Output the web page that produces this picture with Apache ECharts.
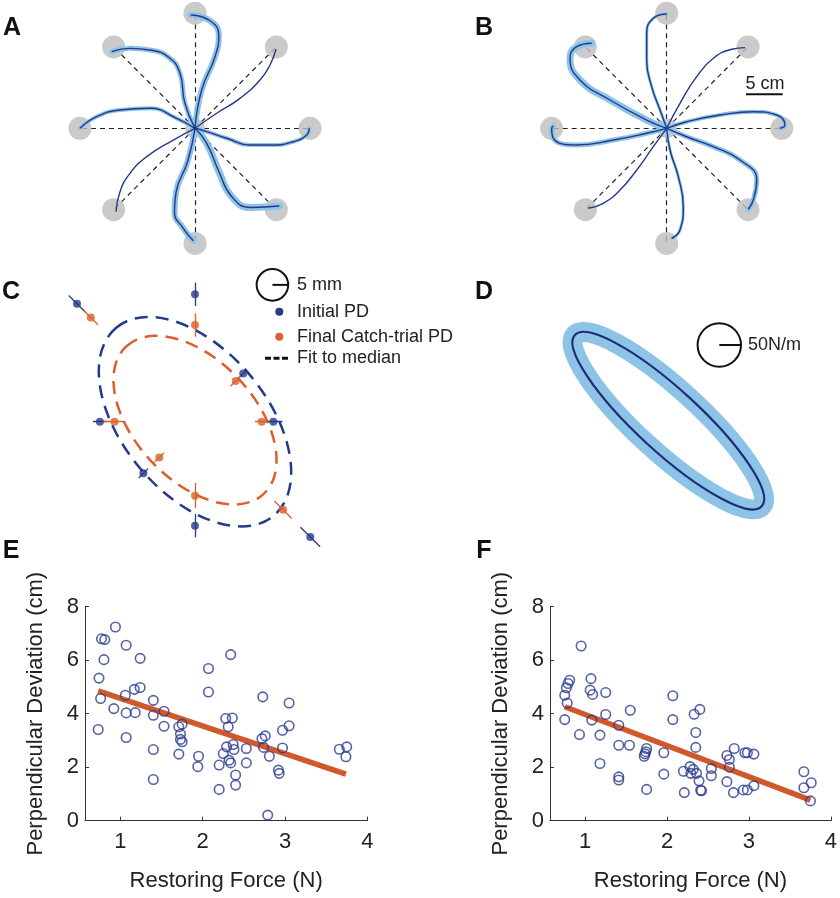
<!DOCTYPE html>
<html><head><meta charset="utf-8">
<script src="https://cdn.jsdelivr.net/npm/echarts@6/dist/echarts.min.js"></script>
<style>html,body{margin:0;padding:0;background:#fff}#c{width:840px;height:898px}</style>
</head><body><div id="c"></div>
<script>
// ================= DATA =================
// Panels A/B: targets (cm)
const targetAngles = [0, 45, 90, 135, 180, 225, 270, 315];
const targetDist = 15.7;
// Panel A: mean trajectories (cm), centre -> target, order: R, UR, U, UL, L, LL, D, LR
const trajA_R  = [[0,0],[1.60,-0.46],[4.32,-1.36],[7.50,-2.28],[10.68,-2.28],[13.41,-1.83],[15.24,-0.91],[15.59,0]];
const trajA_UR = [[0,0],[2.96,2.05],[6.14,4.09],[8.87,6.59],[10.23,8.64],[11.05,10.78]];
const trajA_U  = [[0,0],[0.91,5.22],[2.73,9.77],[3.25,12.7],[2.0,14.7],[-0.59,15.46]];
const trajA_UL = [[0,0],[-1.40,3.5],[-2.05,7.50],[-3.6,9.7],[-6.14,10.68],[-8.87,10.91],[-11.36,10.45]];
const trajA_L  = [[0,0],[-2.50,1.36],[-6.14,2.73],[-10.23,2.50],[-13.41,1.58],[-15.69,0]];
const trajA_LL = [[0,0],[-2.96,-1.60],[-6.59,-3.87],[-8.87,-6.14],[-10.23,-8.65],[-10.78,-11.38]];
const trajA_D  = [[0,0],[-1.0,-4.5],[-2.6,-8.8],[-2.8,-11.4],[-1.60,-13.64],[-0.23,-15.33]];
const trajA_LR = [[0,0],[1.60,-2.05],[3.3,-6.0],[5.0,-9.3],[7.6,-10.8],[11.50,-10.60]];
// Panel B: mean trajectories (cm)
const trajB_R  = [[0,0],[2.73,0.90],[7.27,1.81],[11.81,2.26],[15.0,1.81],[16.14,0.45],[15.46,0]];
const trajB_UR = [[0,0],[1.81,3.41],[4.09,7.04],[6.36,9.55],[8.87,10.78],[10.68,11.0]];
const trajB_U  = [[0,0],[-0.91,2.50],[-2.05,5.68],[-2.73,9.32],[-2.73,12.96],[-1.83,15.0],[0,15.59]];
const trajB_UL = [[0,0],[-2.73,1.13],[-7.74,3.86],[-11.83,6.59],[-13.19,9.55],[-12.28,11.13],[-10.23,11.60]];
const trajB_L  = [[0,0],[-2.73,-0.68],[-7.28,-1.60],[-12.28,-2.28],[-15.47,-1.36],[-15.69,0],[-15.47,0.31]];
const trajB_LL = [[0,0],[-1.83,-2.51],[-4.09,-5.69],[-6.37,-8.42],[-8.65,-10.23],[-10.70,-10.91]];
const trajB_D  = [[0,0],[0.45,-2.96],[1.58,-6.60],[2.26,-10.70],[1.81,-13.87],[0.68,-15.0]];
const trajB_LR = [[0,0],[2.73,-1.15],[6.36,-2.51],[10.0,-4.32],[12.28,-7.05],[11.81,-9.78],[11.13,-11.05]];
const scaleBarCm = 5;

// Panel C: preferred directions (mm), order: R, UR, U, UL, L, LL, D, LR
const pdAngles = [0, 45, 90, 135, 180, 225, 270, 315];
const initialPD    = [24.8, 21.6, 40.3, 52.8, 30.1, 23.1, 32.9, 51.6];
const initialPDErr = [2.9, 1.6, 3.7, 3.7, 2.2, 2.1, 3.7, 4.4];
const finalPD      = [21.1, 18.2, 30.6, 46.6, 25.5, 16.0, 23.4, 39.4];
const finalPDErr   = [2.1, 2.3, 3.7, 3.2, 3.4, 2.1, 4.0, 3.9];
// fitted ellipses [cx, cy, semi-major, semi-minor, angle deg]
const fitInitial = [0, 0, 38.8, 22.8, -50];
const fitFinal   = [0, 0.5, 31.9, 19.0, -47];
const scaleC_mm = 5;

// Panel D: stiffness ellipse (N/m)
const stiffEllipse = [0, 0, 292, 72, -42.5];
const scaleD_Nm = 50;

// Panels E/F
const xTicks = [1, 2, 3, 4];
const yTicks = [0, 2, 4, 6, 8];
const scatterE = [[0.94,7.24],[0.77,6.80],[0.81,6.77],[1.07,6.56],[0.80,6.02],[1.24,6.07],[0.74,5.33],[1.17,4.91],[1.24,4.98],[0.76,4.57],[1.06,4.69],[1.40,4.50],[0.92,4.19],[1.07,4.03],[1.18,4.04],[1.40,3.94],[1.53,4.09],[0.73,3.41],[1.07,3.11],[1.53,3.53],[1.71,3.51],[1.75,3.61],[1.73,3.24],[1.73,3.04],[1.75,2.95],[1.40,2.66],[1.71,2.49],[1.95,2.41],[1.94,2.02],[1.40,1.54],
  [2.07,5.69],[2.07,4.81],[2.20,2.08],[2.20,1.17],[2.28,3.82],[2.36,3.84],[2.31,3.51],[2.37,2.85],[2.29,2.76],[2.38,2.66],[2.25,2.51],[2.32,2.26],[2.34,2.16],[2.40,1.71],[2.40,1.33],[2.34,6.21],[2.53,2.70],[2.53,2.16],[2.73,4.63],[2.72,3.07],[2.76,3.17],[2.74,2.74],[2.81,2.41],[2.92,1.89],[2.93,1.77],[2.79,0.21],[2.97,3.38],[3.05,3.55],[2.97,2.72],[3.05,4.40],[3.66,2.67],[3.75,2.76],[3.74,2.39]];
const fitLineE = [[0.73,4.85],[3.74,1.74]];
const scatterF = [[0.95,6.53],[0.75,4.69],[0.77,4.97],[0.79,5.13],[0.81,5.25],[0.78,4.40],[0.75,3.78],[1.07,5.31],[1.06,4.88],[1.09,4.72],[1.25,4.79],[0.93,3.22],[1.08,3.76],[1.25,3.97],[1.18,3.20],[1.18,2.14],[1.41,3.57],[1.55,4.13],[1.41,2.82],[1.54,2.82],[1.75,2.70],[1.74,2.58],[1.72,2.41],[1.73,2.50],[1.41,1.64],[1.41,1.52],[1.75,1.17],[1.96,2.54],[1.96,1.74],[2.07,4.67],[2.07,3.78],[2.21,1.05],[2.20,1.85],
  [2.33,3.98],[2.40,4.16],[2.35,3.30],[2.35,2.74],[2.28,2.02],[2.32,1.92],[2.29,1.77],[2.36,1.77],[2.39,1.49],[2.41,1.14],[2.42,1.12],[2.54,1.95],[2.54,1.68],[2.73,2.44],[2.76,2.29],[2.82,2.70],[2.76,2.00],[2.73,1.46],[2.81,1.05],[2.95,2.54],[2.98,2.54],[3.06,2.49],[2.93,1.15],[2.98,1.15],[3.06,1.31],[3.67,1.83],[3.76,1.42],[3.67,1.23],[3.75,0.74]];
const fitLineF = [[0.75,4.26],[3.75,0.77]];

// ================= STYLE / LAYOUT =================
const FONT = "'Liberation Sans', Arial, Helvetica, sans-serif";
const NAVY = '#22398a', BAND = '#8cc3e6', GRAY = '#bdbdbd';
const CBLUE = '#253a8c', CORANGE = '#dc5f2c';
const trajA = [trajA_R, trajA_UR, trajA_U, trajA_UL, trajA_L, trajA_LL, trajA_D, trajA_LR];
const trajB = [trajB_R, trajB_UR, trajB_U, trajB_UL, trajB_L, trajB_LL, trajB_D, trajB_LR];
const bandWA = [4, 0, 6, 5, 4, 0, 6, 7];
const bandWB = [4, 0, 3, 7, 5, 0, 3, 5];
const rad = d => d * Math.PI / 180;
const polar = (r, a) => [r * Math.cos(rad(a)), r * Math.sin(rad(a))];

function eqGrid(cx, cy, pxPerUnit, xr, yr) {
  const w = (xr[1] - xr[0]) * pxPerUnit, h = (yr[1] - yr[0]) * pxPerUnit;
  return { left: cx - (0 - xr[0]) * pxPerUnit, top: cy - (yr[1] - 0) * pxPerUnit, width: w, height: h };
}
const rA = [[-20, 20], [-17.5, 17.5]], rC = [[-60, 60], [-50, 50]], rD = [[-360, 360], [-320, 320]];
const grids = [
  eqGrid(195, 128.3, 7.33, rA[0], rA[1]),
  eqGrid(666.7, 128.3, 7.33, rA[0], rA[1]),
  eqGrid(195, 421.7, 3.16, rC[0], rC[1]),
  eqGrid(668.3, 420.7, 0.434, rD[0], rD[1]),
  { left: 85, top: 606.7, width: 282.3, height: 214 },
  { left: 550, top: 606.7, width: 282.3, height: 214 }
];
const hidX = (gi, r) => ({ gridIndex: gi, type: 'value', min: r[0], max: r[1], show: false, splitLine: { show: false } });
const hidY = (gi, r) => ({ gridIndex: gi, type: 'value', min: r[0], max: r[1], show: false, splitLine: { show: false } });
const xMin = 0.57;
const sciX = gi => ({
  gridIndex: gi, type: 'value', min: xMin, max: 4,
  axisLine: { show: true, lineStyle: { color: '#333', width: 1 } },
  axisTick: { show: true, inside: true, length: 4, customValues: xTicks, lineStyle: { color: '#333' } },
  axisLabel: { customValues: xTicks, fontSize: 22, color: '#222', margin: 10, fontFamily: FONT },
  splitLine: { show: false },
  name: 'Restoring Force (N)', nameLocation: 'middle', nameGap: 49,
  nameTextStyle: { fontSize: 22, color: '#222', fontFamily: FONT }
});
const sciY = gi => ({
  gridIndex: gi, type: 'value', min: yTicks[0], max: yTicks[yTicks.length - 1], interval: 2,
  axisLine: { show: true, lineStyle: { color: '#333', width: 1 } },
  axisTick: { show: true, inside: true, length: 4, lineStyle: { color: '#333' } },
  axisLabel: { fontSize: 22, color: '#222', margin: 6, fontFamily: FONT },
  splitLine: { show: false },
  name: 'Perpendicular Deviation (cm)', nameLocation: 'middle', nameGap: 38,
  nameTextStyle: { fontSize: 22, color: '#222', fontFamily: FONT }
});

const series = [];
// ---- Panels A and B ----
function reachPanel(gi, trajs, bandW) {
  const targets = targetAngles.map(a => polar(targetDist, a));
  series.push({
    type: 'lines', coordinateSystem: 'cartesian2d', xAxisIndex: gi, yAxisIndex: gi, z: 1, silent: true,
    data: targets.map(t => ({ coords: [[0, 0], t] })),
    lineStyle: { color: '#222', width: 1.2, type: [5, 4], opacity: 1 }
  });
  series.push({
    type: 'scatter', xAxisIndex: gi, yAxisIndex: gi, z: 2, silent: true,
    symbolSize: 23, itemStyle: { color: GRAY }, data: targets
  });
  series.push({
    type: 'scatter', xAxisIndex: gi, yAxisIndex: gi, z: 2, silent: true,
    symbolSize: 20, itemStyle: { color: GRAY }, data: [[0, 0]]
  });
  trajs.forEach((t, i) => {
    if (bandW[i] > 0) series.push({
      type: 'line', xAxisIndex: gi, yAxisIndex: gi, z: 3, silent: true, smooth: 0.5, symbol: 'none',
      data: t, lineStyle: { color: BAND, width: bandW[i], cap: 'round' }, clip: false
    });
  });
  trajs.forEach(t => series.push({
    type: 'line', xAxisIndex: gi, yAxisIndex: gi, z: 4, silent: true, smooth: 0.5, symbol: 'none',
    data: t, lineStyle: { color: NAVY, width: 1.4 }, clip: false
  }));
}
reachPanel(0, trajA, bandWA);
reachPanel(1, trajB, bandWB);
// scale bar in B (5 cm)
series.push({
  type: 'line', xAxisIndex: 1, yAxisIndex: 1, symbol: 'none', silent: true, z: 5,
  data: [[10.82, 4.64], [10.82 + scaleBarCm, 4.64]], lineStyle: { color: '#111', width: 2 }
});

// ---- ellipse renderer ----
function ellipseSeries(gi, params, color, width, dash, z) {
  return {
    type: 'custom', xAxisIndex: gi, yAxisIndex: gi, z: z, silent: true, clip: false,
    data: [params],
    renderItem: (p, api) => {
      const c = api.coord([api.value(0), api.value(1)]);
      const s = api.size([api.value(2), api.value(3)]);
      return {
        type: 'ellipse', x: c[0], y: c[1], rotation: rad(api.value(4)),
        shape: { cx: 0, cy: 0, rx: s[0], ry: s[1] },
        style: { fill: 'none', stroke: color, lineWidth: width, lineDash: dash }
      };
    }
  };
}
function scaleCircle(gi, center, r) {
  return {
    type: 'custom', xAxisIndex: gi, yAxisIndex: gi, z: 6, silent: true, clip: false,
    data: [[center[0], center[1], r]],
    renderItem: (p, api) => {
      const c = api.coord([api.value(0), api.value(1)]);
      const rr = api.size([api.value(2), 0])[0];
      return {
        type: 'group', children: [
          { type: 'circle', shape: { cx: c[0], cy: c[1], r: rr }, style: { fill: 'none', stroke: '#111', lineWidth: 2 } },
          { type: 'line', shape: { x1: c[0], y1: c[1], x2: c[0] + rr, y2: c[1] }, style: { stroke: '#111', lineWidth: 2 } }
        ]
      };
    }
  };
}

// ---- Panel C ----
series.push(ellipseSeries(2, fitInitial, CBLUE, 2.5, [13, 8], 2));
series.push(ellipseSeries(2, fitFinal, CORANGE, 2.5, [13, 8], 2));
function pdBars(mags, errs, color) {
  return {
    type: 'lines', coordinateSystem: 'cartesian2d', xAxisIndex: 2, yAxisIndex: 2, z: 3, silent: true,
    data: pdAngles.map((a, i) => ({ coords: [polar(mags[i] - errs[i], a), polar(mags[i] + errs[i], a)] })),
    lineStyle: { color: color, width: 1.3, opacity: 1 }
  };
}
series.push(pdBars(initialPD, initialPDErr, CBLUE));
series.push(pdBars(finalPD, finalPDErr, CORANGE));
series.push({ type: 'scatter', xAxisIndex: 2, yAxisIndex: 2, z: 4, silent: true, symbolSize: 8,
  itemStyle: { color: CBLUE }, data: pdAngles.map((a, i) => polar(initialPD[i], a)) });
series.push({ type: 'scatter', xAxisIndex: 2, yAxisIndex: 2, z: 4, silent: true, symbolSize: 8,
  itemStyle: { color: CORANGE }, data: pdAngles.map((a, i) => polar(finalPD[i], a)) });
series.push(scaleCircle(2, [24.5, 43.3], scaleC_mm));

// ---- Panel D ----
series.push(ellipseSeries(3, stiffEllipse, BAND, 20, null, 2));
series.push(ellipseSeries(3, stiffEllipse, '#1f2c78', 2.2, null, 3));
series.push(scaleCircle(3, [117.5, 174.4], scaleD_Nm));

// ---- Panels E/F ----
function sciPanel(gi, pts, fit) {
  series.push({ type: 'line', xAxisIndex: gi, yAxisIndex: gi, z: 2, silent: true, symbol: 'none',
    data: fit, lineStyle: { color: '#d0582b', width: 5.5 } });
  series.push({ type: 'scatter', xAxisIndex: gi, yAxisIndex: gi, z: 3, silent: true, symbolSize: 9.5,
    itemStyle: { color: 'rgba(255,255,255,0)', borderColor: '#2a3b8f', borderWidth: 1.6 }, data: pts, clip: false });
}
sciPanel(4, scatterE, fitLineE);
sciPanel(5, scatterF, fitLineF);

// ---- texts ----
const letter = (t, x, y) => ({ type: 'text', x: x, y: y, silent: true,
  style: { text: t, fontSize: 25, fontWeight: 'bold', fontFamily: FONT, fill: '#111', align: 'center', verticalAlign: 'middle' } });
const label = (t, x, y, size, align) => ({ type: 'text', x: x, y: y, silent: true,
  style: { text: t, fontSize: size, fontFamily: FONT, fill: '#222', align: align || 'left', verticalAlign: 'middle' } });
const graphic = [
  letter('A', 12, 28), letter('B', 484, 28), letter('C', 11, 292), letter('D', 484, 292),
  letter('E', 11, 551), letter('F', 484, 551),
  label('5 cm', 765, 84, 18, 'center'),
  label('5 mm', 297, 285, 18),
  { type: 'circle', shape: { cx: 279.3, cy: 311.7, r: 4 }, style: { fill: CBLUE }, silent: true },
  label('Initial PD', 297, 311.7, 18),
  { type: 'circle', shape: { cx: 279.3, cy: 336.7, r: 4 }, style: { fill: CORANGE }, silent: true },
  label('Final Catch-trial PD', 297, 336.7, 18),
  { type: 'line', shape: { x1: 265, y1: 358.3, x2: 290, y2: 358.3 }, style: { stroke: '#111', lineWidth: 3, lineDash: [6, 2.5] }, silent: true },
  label('Fit to median', 297, 358.3, 18),
  label('50N/m', 748, 345, 18)
];

const chart = echarts.init(document.getElementById('c'), null, { renderer: 'canvas' });
chart.setOption({
  animation: false,
  backgroundColor: '#fff',
  grid: grids,
  xAxis: [hidX(0, rA[0]), hidX(1, rA[0]), hidX(2, rC[0]), hidX(3, rD[0]), sciX(4), sciX(5)],
  yAxis: [hidY(0, rA[1]), hidY(1, rA[1]), hidY(2, rC[1]), hidY(3, rD[1]), sciY(4), sciY(5)],
  series: series,
  graphic: graphic
});
</script>
</body></html>
